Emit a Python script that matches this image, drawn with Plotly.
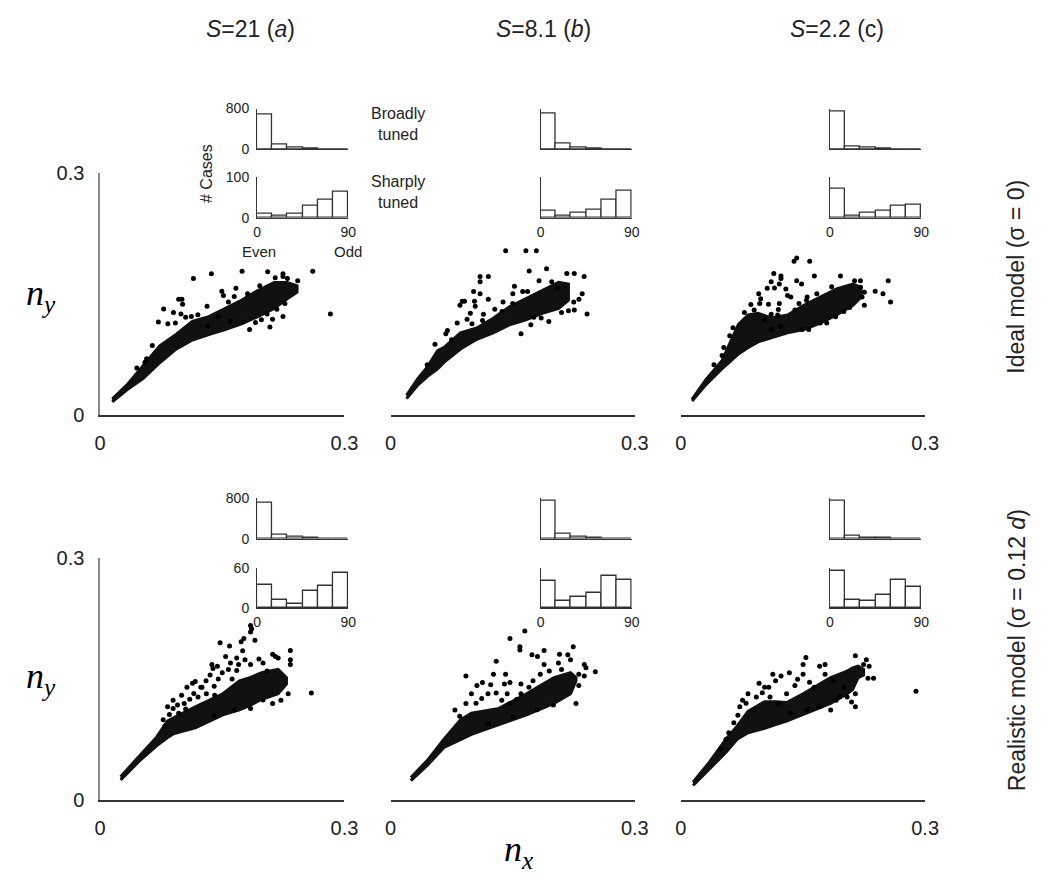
import plotly.graph_objects as go

W, H = 1050, 891

# ---------------- data ----------------
col_titles = ["<i>S</i>=21 (<i>a</i>)", "<i>S</i>=8.1 (<i>b</i>)", "<i>S</i>=2.2 (c)"]
row_titles = ["Ideal model (σ = 0)", "Realistic model (σ = 0.12 <i>d</i>)"]
scatter_ticks = [0, 0.3]
scatter_ticktext = ["0", "0.3"]
hist_centers = [7.5, 22.5, 37.5, 52.5, 67.5, 82.5]   # 15-degree bins, 0..90
hist_ticks = [0, 90]

# dense core of each cloud: x, upper edge, lower edge
r1c1_band_x = [0.0148, 0.0329, 0.053, 0.0731, 0.0932, 0.1133, 0.1334, 0.1534, 0.1735, 0.1936, 0.2137, 0.2297, 0.2418]
r1c1_band_hi = [0.0195, 0.0371, 0.0613, 0.0855, 0.0996, 0.1158, 0.1218, 0.1319, 0.142, 0.1541, 0.1642, 0.1642, 0.160]
r1c1_band_lo = [0.016, 0.031, 0.0452, 0.0645, 0.0815, 0.0928, 0.0996, 0.1057, 0.1129, 0.1218, 0.132, 0.144, 0.152]

r1c2_band_x = [0.0197, 0.0257, 0.0337, 0.0458, 0.0578, 0.0659, 0.0859, 0.106, 0.1261, 0.1462, 0.1663, 0.1864, 0.2065, 0.2185]
r1c2_band_hi = [0.024, 0.0331, 0.0452, 0.060, 0.0795, 0.0835, 0.1016, 0.1077, 0.1198, 0.1339, 0.144, 0.154, 0.1642, 0.1621]
r1c2_band_lo = [0.020, 0.027, 0.0371, 0.048, 0.057, 0.0653, 0.0815, 0.0936, 0.1016, 0.1117, 0.1178, 0.1258, 0.1319, 0.142]

r1c3_band_x = [0.0137, 0.0305, 0.0506, 0.0627, 0.0707, 0.0827, 0.0948, 0.1109, 0.131, 0.151, 0.1711, 0.1912, 0.2113, 0.2213]
r1c3_band_hi = [0.019, 0.0432, 0.0674, 0.095, 0.112, 0.124, 0.126, 0.120, 0.1238, 0.1359, 0.146, 0.1561, 0.1621, 0.1581]
r1c3_band_lo = [0.017, 0.0371, 0.0573, 0.0682, 0.0754, 0.0835, 0.0904, 0.0956, 0.1016, 0.1057, 0.1137, 0.1238, 0.1359, 0.146]

r2c1_band_x = [0.0251, 0.0489, 0.0693, 0.0828, 0.0896, 0.1168, 0.1507, 0.1711, 0.1847, 0.1983, 0.2186, 0.2288]
r2c1_band_hi = [0.029, 0.0552, 0.078, 0.098, 0.1016, 0.1157, 0.1318, 0.1479, 0.152, 0.158, 0.162, 0.1519]
r2c1_band_lo = [0.025, 0.0492, 0.0673, 0.0774, 0.082, 0.0895, 0.1056, 0.112, 0.1177, 0.125, 0.1318, 0.1439]

r2c2_band_x = [0.025, 0.0453, 0.0656, 0.0859, 0.0994, 0.1332, 0.167, 0.2008, 0.2211, 0.2278]
r2c2_band_hi = [0.028, 0.0492, 0.0754, 0.0995, 0.1076, 0.1136, 0.1318, 0.1519, 0.158, 0.1519]
r2c2_band_lo = [0.024, 0.0431, 0.0653, 0.075, 0.0814, 0.0935, 0.1056, 0.1197, 0.1318, 0.1479]

r2c3_band_x = [0.0149, 0.0352, 0.0554, 0.069, 0.0825, 0.1028, 0.1163, 0.1298, 0.1501, 0.1839, 0.2042, 0.2109, 0.2177, 0.2244]
r2c3_band_hi = [0.022, 0.0472, 0.0754, 0.0915, 0.110, 0.122, 0.122, 0.121, 0.1318, 0.1519, 0.160, 0.164, 0.166, 0.162]
r2c3_band_lo = [0.018, 0.0391, 0.0592, 0.0754, 0.0834, 0.089, 0.0935, 0.098, 0.1056, 0.1197, 0.1318, 0.137, 0.1519, 0.155]

# individual scattered points (n_x, n_y)
r1c1_pts = [(0.1145, 0.169), (0.1366, 0.175), (0.1743, 0.178), (0.2057, 0.1775), (0.2245, 0.175), (0.2245, 0.1714),
            (0.2611, 0.178), (0.2426, 0.1662), (0.2828, 0.125), (0.1004, 0.1432), (0.0964, 0.1432), (0.1012, 0.1371),
            (0.0779, 0.1311), (0.090, 0.127), (0.0992, 0.125), (0.0715, 0.115), (0.0831, 0.1129), (0.0924, 0.1137),
            (0.1313, 0.1347), (0.1494, 0.1533), (0.1514, 0.148), (0.1667, 0.1569), (0.1647, 0.1468), (0.1575, 0.140),
            (0.1835, 0.1057), (0.2085, 0.1089), (0.2245, 0.1218), (0.2269, 0.138), (0.2117, 0.1186), (0.1908, 0.1145),
            (0.057, 0.0694), (0.055, 0.0653), (0.105, 0.121), (0.112, 0.122), (0.120, 0.124), (0.145, 0.1215),
            (0.176, 0.1155), (0.198, 0.118), (0.205, 0.125), (0.217, 0.131), (0.181, 0.150), (0.196, 0.160),
            (0.215, 0.170), (0.230, 0.169), (0.064, 0.086), (0.045, 0.058), (0.132, 0.110), (0.160, 0.116)]
r1c2_pts = [(0.1414, 0.2033), (0.1663, 0.2033), (0.1791, 0.2033), (0.1703, 0.1783), (0.1916, 0.1811), (0.110, 0.1714),
            (0.1201, 0.1714), (0.110, 0.165), (0.102, 0.1529), (0.110, 0.150), (0.1201, 0.1432), (0.088, 0.1408),
            (0.0908, 0.1408), (0.0852, 0.1359), (0.1032, 0.1408), (0.104, 0.1347), (0.1522, 0.1593), (0.1502, 0.150),
            (0.1623, 0.1529), (0.1683, 0.1529), (0.1824, 0.1662), (0.2165, 0.1751), (0.2257, 0.1751), (0.2378, 0.1714),
            (0.2354, 0.150), (0.2314, 0.1432), (0.2414, 0.125), (0.2257, 0.1299), (0.2185, 0.1291), (0.1944, 0.1158),
            (0.1603, 0.1004), (0.1723, 0.1117), (0.0819, 0.1137), (0.094, 0.1186), (0.098, 0.1258), (0.1141, 0.1246),
            (0.0699, 0.1045), (0.0679, 0.1004), (0.0546, 0.0875), (0.045, 0.0621), (0.1382, 0.140),
            (0.128, 0.131), (0.137, 0.128), (0.150, 0.138), (0.100, 0.113), (0.113, 0.117), (0.198, 0.165),
            (0.205, 0.158), (0.185, 0.120), (0.176, 0.121), (0.210, 0.127), (0.225, 0.140), (0.075, 0.093)]
r1c3_pts = [(0.1422, 0.1944), (0.139, 0.1903), (0.1582, 0.1903), (0.1141, 0.1751), (0.1229, 0.1722), (0.1229, 0.169),
            (0.1109, 0.165), (0.1209, 0.1621), (0.1422, 0.1662), (0.1482, 0.1621), (0.1639, 0.1722), (0.196, 0.1722),
            (0.2133, 0.1662), (0.2205, 0.1662), (0.2205, 0.1581), (0.2253, 0.1521), (0.2225, 0.146), (0.2253, 0.1359),
            (0.2546, 0.1662), (0.2386, 0.1533), (0.2482, 0.150), (0.2575, 0.140), (0.106, 0.1569), (0.1149, 0.1573),
            (0.1289, 0.1561), (0.131, 0.148), (0.135, 0.146), (0.0956, 0.150), (0.098, 0.144), (0.0968, 0.138),
            (0.0859, 0.1367), (0.1076, 0.1371), (0.1209, 0.138), (0.1197, 0.1307), (0.1109, 0.1246), (0.1189, 0.1238),
            (0.1551, 0.146), (0.1542, 0.142), (0.1852, 0.1589), (0.1791, 0.1137), (0.1711, 0.1137), (0.157, 0.1057),
            (0.149, 0.1057), (0.0527, 0.0835), (0.0506, 0.0734), (0.0406, 0.0621), (0.1109, 0.1057), (0.1229, 0.1097),
            (0.1028, 0.1178), (0.2073, 0.1331), (0.078, 0.127), (0.090, 0.130), (0.064, 0.108), (0.060, 0.098),
            (0.140, 0.130), (0.145, 0.138), (0.167, 0.150), (0.190, 0.1215), (0.200, 0.128)]
r2c1_pts = [(0.1847, 0.2164), (0.186, 0.2124), (0.1847, 0.2084), (0.1765, 0.2003), (0.1901, 0.1983), (0.1731, 0.1963),
            (0.1473, 0.1951), (0.1589, 0.191), (0.1677, 0.1761), (0.1541, 0.1781), (0.1779, 0.1741), (0.1372, 0.1681),
            (0.144, 0.166), (0.1385, 0.1632), (0.1575, 0.162), (0.1677, 0.1608), (0.1168, 0.1471), (0.1134, 0.1447),
            (0.1066, 0.1398), (0.1236, 0.1398), (0.2118, 0.1809), (0.2152, 0.1781), (0.2186, 0.1761), (0.2336, 0.1854),
            (0.2336, 0.1741), (0.2336, 0.1681), (0.2594, 0.1326), (0.2118, 0.1197), (0.222, 0.1237), (0.2309, 0.1318),
            (0.1847, 0.1136), (0.0896, 0.1237), (0.1032, 0.1197), (0.0828, 0.1157), (0.0896, 0.1136), (0.0964, 0.1076),
            (0.1304, 0.1318), (0.1406, 0.1298), (0.1202, 0.1278), (0.0774, 0.0995), (0.0794, 0.0915), (0.1847, 0.1681),
            (0.095, 0.118), (0.110, 0.125), (0.125, 0.140), (0.130, 0.148), (0.100, 0.130), (0.115, 0.132),
            (0.135, 0.155), (0.145, 0.150), (0.150, 0.158), (0.160, 0.170), (0.170, 0.168), (0.175, 0.185),
            (0.200, 0.170), (0.205, 0.160), (0.195, 0.175), (0.085, 0.106), (0.105, 0.113), (0.140, 0.141),
            (0.162, 0.150), (0.200, 0.124), (0.165, 0.112), (0.140, 0.105)]
r2c2_pts = [(0.1649, 0.2096), (0.1467, 0.2003), (0.1589, 0.1902), (0.1589, 0.1862), (0.2244, 0.1902), (0.1886, 0.1854),
            (0.2075, 0.1809), (0.1737, 0.1801), (0.1805, 0.1781), (0.2177, 0.1801), (0.1886, 0.1681), (0.2062, 0.1701),
            (0.1298, 0.1721), (0.1264, 0.156), (0.1413, 0.156), (0.0926, 0.1539), (0.1129, 0.1459), (0.1061, 0.1419),
            (0.123, 0.1431), (0.1399, 0.1439), (0.1467, 0.1459), (0.1602, 0.1439), (0.238, 0.1681), (0.240, 0.164),
            (0.2515, 0.1592), (0.2312, 0.156), (0.238, 0.1539), (0.2312, 0.1419), (0.2278, 0.1197), (0.1197, 0.1318),
            (0.1298, 0.1326), (0.1433, 0.1318), (0.1366, 0.1237), (0.1467, 0.1197), (0.1602, 0.1318), (0.0994, 0.1318),
            (0.0791, 0.1116), (0.0926, 0.1197), (0.2211, 0.1741), (0.1839, 0.156), (0.085, 0.104), (0.105, 0.120),
            (0.112, 0.126), (0.155, 0.125), (0.170, 0.140), (0.175, 0.148), (0.195, 0.160), (0.210, 0.162),
            (0.180, 0.112), (0.200, 0.118), (0.150, 0.103), (0.120, 0.095)]
r2c3_pts = [(0.1535, 0.1769), (0.1501, 0.168), (0.1771, 0.168), (0.1704, 0.166), (0.2143, 0.1789), (0.2278, 0.1741),
            (0.2244, 0.168), (0.2312, 0.166), (0.2366, 0.1511), (0.2298, 0.1511), (0.1129, 0.156), (0.123, 0.1539),
            (0.1332, 0.158), (0.096, 0.1447), (0.1163, 0.1479), (0.1028, 0.1398), (0.1501, 0.156), (0.1433, 0.1499),
            (0.0825, 0.1318), (0.0926, 0.1278), (0.0757, 0.1237), (0.0723, 0.1157), (0.1095, 0.1278), (0.1197, 0.1197),
            (0.1298, 0.1318), (0.2143, 0.1318), (0.2143, 0.1157), (0.2096, 0.1217), (0.2042, 0.1278), (0.1906, 0.1237),
            (0.1704, 0.1157), (0.1839, 0.1116), (0.2887, 0.135), (0.0588, 0.0834), (0.0554, 0.0754), (0.0487, 0.0633),
            (0.0892, 0.1116), (0.1636, 0.1398), (0.1873, 0.1479), (0.1771, 0.156), (0.080, 0.120), (0.100, 0.133),
            (0.108, 0.140), (0.140, 0.142), (0.158, 0.146), (0.070, 0.105), (0.065, 0.096), (0.135, 0.108),
            (0.155, 0.112), (0.2, 0.140), (0.195, 0.128)]

# histograms of tuning angle (# cases per 15-degree bin)
r1c1_broad = [687, 100, 44, 12, 0, 0]
r1c1_sharp = [10, 4, 10, 29, 45, 64]
r1c2_broad = [693, 107, 44, 19, 0, 0]
r1c2_sharp = [16, 6, 12, 20, 43, 67]
r1c3_broad = [736, 51, 32, 19, 0, 0]
r1c3_sharp = [70, 5, 11, 16, 29, 31]
r2c1_broad = [693, 82, 44, 13, 0, 0]
r2c1_sharp = [34, 12, 6, 25, 33, 53]
r2c2_broad = [740, 90, 30, 10, 0, 0]
r2c2_sharp = [41, 10, 16, 23, 48, 42]
r2c3_broad = [740, 60, 25, 10, 0, 0]
r2c3_sharp = [55, 12, 10, 19, 42, 32]
broad_max = [800, 800]
sharp_max = [100, 60]

bands = [[(r1c1_band_x, r1c1_band_hi, r1c1_band_lo), (r1c2_band_x, r1c2_band_hi, r1c2_band_lo), (r1c3_band_x, r1c3_band_hi, r1c3_band_lo)],
         [(r2c1_band_x, r2c1_band_hi, r2c1_band_lo), (r2c2_band_x, r2c2_band_hi, r2c2_band_lo), (r2c3_band_x, r2c3_band_hi, r2c3_band_lo)]]
points = [[r1c1_pts, r1c2_pts, r1c3_pts], [r2c1_pts, r2c2_pts, r2c3_pts]]
hists = [[(r1c1_broad, r1c1_sharp), (r1c2_broad, r1c2_sharp), (r1c3_broad, r1c3_sharp)],
         [(r2c1_broad, r2c1_sharp), (r2c2_broad, r2c2_sharp), (r2c3_broad, r2c3_sharp)]]

# ---------------- layout geometry (pixels) ----------------
sc_cols = [(96, 345), (392, 641), (688, 937)]
sc_rows = [(166, 414), (561, 809)]
h_cols = [(256, 349), (545, 638), (840, 933)]
h_top_rows = [(100, 142), (499, 541)]
h_bot_rows = [(170, 212), (571, 612)]

FONT = "Liberation Sans"
SERIF = "Liberation Serif"
AX = "#333333"


def dom_x(a, b):
    return [a / W, b / W]


def dom_y(top, bot):
    return [1 - bot / H, 1 - top / H]


fig = go.Figure()
layout = {}
n = [0]


def new_axes():
    n[0] += 1
    k = n[0]
    return k, ("xaxis" if k == 1 else f"xaxis{k}"), ("yaxis" if k == 1 else f"yaxis{k}"), \
        ("x" if k == 1 else f"x{k}"), ("y" if k == 1 else f"y{k}")


for r in range(2):
    for c in range(3):
        # ---- scatter panel ----
        k, xa, ya, xr, yr = new_axes()
        bx, hi, lo = bands[r][c]
        fig.add_trace(go.Scatter(x=bx + bx[::-1], y=hi + lo[::-1], fill="toself", fillcolor="#111111",
                                 mode="lines", line=dict(color="#111111", width=3),
                                 hoverinfo="skip", showlegend=False, xaxis=xr, yaxis=yr))
        pts = points[r][c]
        fig.add_trace(go.Scatter(x=[p[0] for p in pts], y=[p[1] for p in pts], mode="markers",
                                 marker=dict(size=5, color="black"), showlegend=False,
                                 xaxis=xr, yaxis=yr))
        layout[xa] = dict(domain=dom_x(*sc_cols[c]), anchor=yr, range=[0, 0.3], showgrid=False,
                          zeroline=False, showline=True, linecolor=AX, linewidth=1.5,
                          tickvals=scatter_ticks, ticktext=scatter_ticktext, ticks="",
                          tickfont=dict(family=FONT, size=20, color="#222"), ticklabelstandoff=9)
        layout[ya] = dict(domain=dom_y(*sc_rows[r]), anchor=xr, range=[0, 0.3], showgrid=False,
                          zeroline=False, showline=(c == 0), linecolor="#888888", linewidth=1.5,
                          tickvals=scatter_ticks if c == 0 else [], ticktext=scatter_ticktext if c == 0 else [],
                          ticks="", showticklabels=(c == 0),
                          tickfont=dict(family=FONT, size=20, color="#222"), ticklabelstandoff=10)

        broad, sharp = hists[r][c]
        # ---- broadly tuned histogram ----
        k, xa, ya, xr, yr = new_axes()
        fig.add_trace(go.Bar(x=hist_centers, y=broad, width=15,
                             marker=dict(color="white", line=dict(color=AX, width=1.3)),
                             showlegend=False, xaxis=xr, yaxis=yr))
        layout[xa] = dict(domain=dom_x(*h_cols[c]), anchor=yr, range=[0, 90], showgrid=False,
                          zeroline=False, showline=True, linecolor=AX, linewidth=1.3,
                          tickvals=[90], ticks="inside", ticklen=4, tickwidth=1.3, tickcolor=AX,
                          showticklabels=False)
        layout[ya] = dict(domain=dom_y(*h_top_rows[r]), anchor=xr, range=[0, broad_max[r]],
                          showgrid=False, zeroline=False, showline=True, linecolor=AX,
                          linewidth=1.3, tickvals=[0, broad_max[r]],
                          ticks="inside", ticklen=3, tickwidth=1.3, tickcolor=AX,
                          showticklabels=(c == 0),
                          tickfont=dict(family=FONT, size=14, color="#222"), ticklabelstandoff=4)
        # ---- sharply tuned histogram ----
        k, xa, ya, xr, yr = new_axes()
        fig.add_trace(go.Bar(x=hist_centers, y=sharp, width=15,
                             marker=dict(color="white", line=dict(color=AX, width=1.3)),
                             showlegend=False, xaxis=xr, yaxis=yr))
        layout[xa] = dict(domain=dom_x(*h_cols[c]), anchor=yr, range=[0, 90], showgrid=False,
                          zeroline=False, showline=True, linecolor=AX, linewidth=1.3,
                          tickvals=hist_ticks, ticktext=[str(t) for t in hist_ticks], ticks="",
                          tickfont=dict(family=FONT, size=14, color="#222"), ticklabelstandoff=1)
        layout[ya] = dict(domain=dom_y(*h_bot_rows[r]), anchor=xr, range=[0, sharp_max[r]],
                          showgrid=False, zeroline=False, showline=True, linecolor=AX,
                          linewidth=1.3, tickvals=[0, sharp_max[r]],
                          ticks="inside", ticklen=3, tickwidth=1.3, tickcolor=AX,
                          showticklabels=(c == 0),
                          tickfont=dict(family=FONT, size=14, color="#222"), ticklabelstandoff=4)


def ann(text, px, py, size, family=FONT, angle=0, color="#222"):
    return dict(text=text, x=px / W, y=1 - py / H, xref="paper", yref="paper", showarrow=False,
                xanchor="center", yanchor="middle", textangle=angle,
                font=dict(family=family, size=size, color=color))


annotations = []
for txt, px in zip(col_titles, [249, 548, 847]):
    annotations.append(ann(txt, px, 18, 23))
annotations.append(ann(row_titles[0], 1030, 272, 23, angle=-90))
annotations.append(ann(row_titles[1], 1030, 655, 23, angle=-90))
annotations.append(ann("<i>n</i><sub><i>y</i></sub>", 36, 292, 36, family=SERIF, color="#000"))
annotations.append(ann("<i>n</i><sub><i>y</i></sub>", 36, 684, 36, family=SERIF, color="#000"))
annotations.append(ann("<i>n</i><sub><i>x</i></sub>", 522, 862, 36, family=SERIF, color="#000"))
annotations.append(ann("# Cases", 205, 167, 16, angle=-90))
annotations.append(ann("Even", 258, 247, 15))
annotations.append(ann("Odd", 349, 247, 15))
annotations.append(ann("Broadly<br>tuned", 400, 116, 16))
annotations.append(ann("Sharply<br>tuned", 400, 186, 16))

fig.update_layout(width=W, height=H, margin=dict(l=0, r=0, t=0, b=0), paper_bgcolor="white",
                  plot_bgcolor="rgba(0,0,0,0)", bargap=0, showlegend=False,
                  annotations=annotations, **layout)

fig.write_html("out.html", config={"displayModeBar": False},
               post_script="document.body.style.margin='0';")
